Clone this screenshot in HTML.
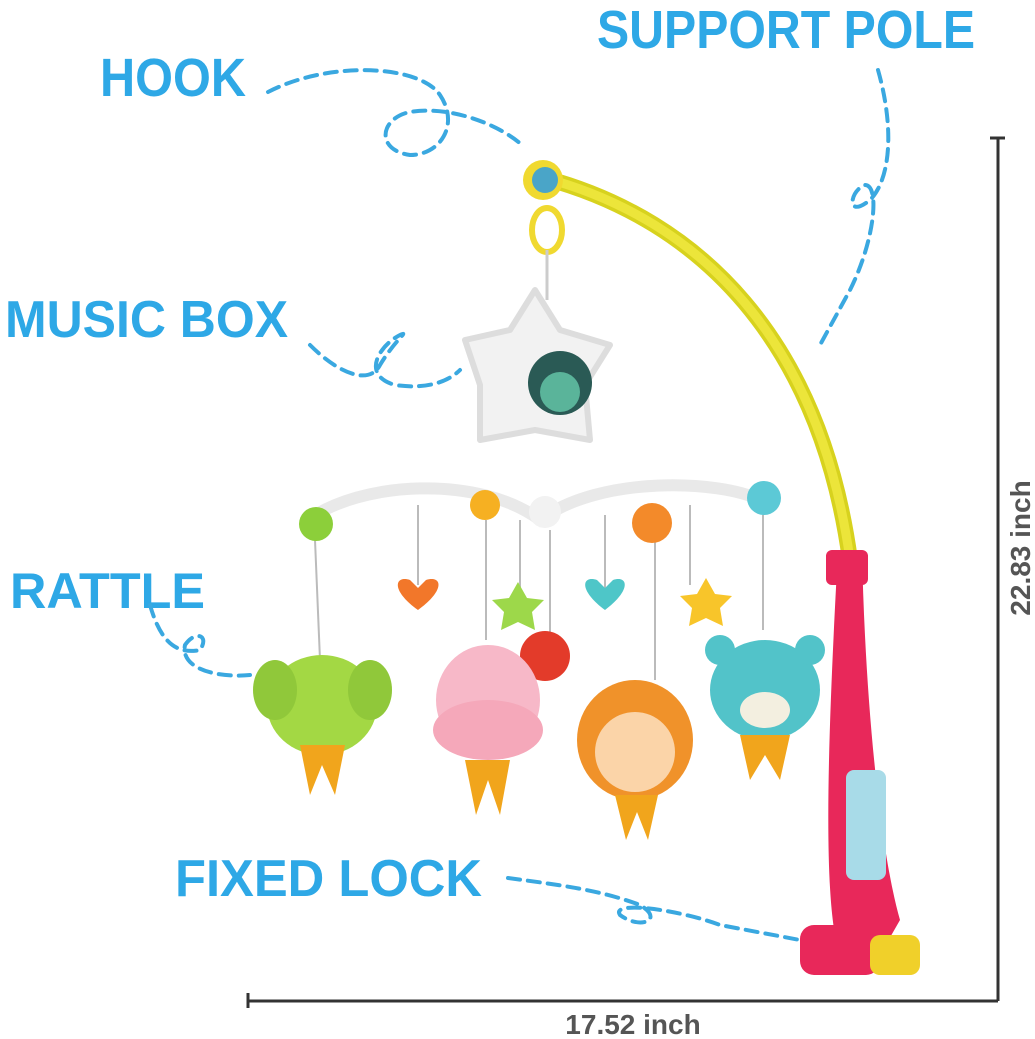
<!DOCTYPE html>
<html><head><meta charset="utf-8"><style>
html,body{margin:0;padding:0;background:#fff;}
svg{display:block}
.lbl{font-family:"Liberation Sans",sans-serif;font-weight:bold;fill:#2ea8e6;}
.d{fill:none;stroke:#3aa8e0;stroke-width:4;stroke-dasharray:12 8;stroke-linecap:round}
</style></head><body>
<svg width="1035" height="1039" viewBox="0 0 1035 1039" xmlns="http://www.w3.org/2000/svg">
<text class="lbl" x="100" y="96" font-size="54" textLength="146" lengthAdjust="spacingAndGlyphs">HOOK</text>
<text class="lbl" x="597" y="48" font-size="54" textLength="378" lengthAdjust="spacingAndGlyphs">SUPPORT POLE</text>
<text class="lbl" x="5" y="337" font-size="52" textLength="283" lengthAdjust="spacingAndGlyphs">MUSIC BOX</text>
<text class="lbl" x="10" y="608" font-size="50" textLength="195" lengthAdjust="spacingAndGlyphs">RATTLE</text>
<text class="lbl" x="175" y="896" font-size="52" textLength="307" lengthAdjust="spacingAndGlyphs">FIXED LOCK</text>
<!-- dashed connectors -->
<path class="d" d="M268,92 C330,60 420,65 440,95 C460,125 440,155 410,155 C375,150 380,118 410,112 C450,105 500,125 522,145"/>
<path class="d" d="M878,70 C895,130 890,180 870,200 C845,220 850,190 865,185 C880,185 875,240 850,290 L820,345"/>
<path class="d" d="M310,345 C340,375 370,385 380,365 C395,340 410,330 400,335 C380,345 360,375 395,385 C430,390 450,380 460,370"/>
<path class="d" d="M150,605 C160,640 175,655 200,650 C210,635 195,630 185,645 C180,670 220,678 250,675"/>
<path class="d" d="M508,878 C560,885 600,890 640,905 C665,920 640,930 620,915 C610,900 680,910 720,925 L800,940"/>
<!-- dimension lines -->
<g stroke="#333" stroke-width="3" fill="none">
<line x1="998" y1="138" x2="998" y2="1001"/>
<line x1="990" y1="138" x2="1005" y2="138"/>
<line x1="248" y1="1001" x2="998" y2="1001"/>
<line x1="248" y1="993" x2="248" y2="1008"/>
</g>
<text x="1030" y="548" transform="rotate(-90 1030 548)" text-anchor="middle" font-family="Liberation Sans,sans-serif" font-weight="bold" font-size="28" fill="#555">22.83 inch</text>
<text x="633" y="1034" text-anchor="middle" font-family="Liberation Sans,sans-serif" font-weight="bold" font-size="28" fill="#555">17.52 inch</text>
<!-- pole -->
<path d="M545,178 C700,220 820,340 850,560" fill="none" stroke="#d7d21e" stroke-width="16"/>
<path d="M545,178 C700,220 820,340 850,560" fill="none" stroke="#ece53a" stroke-width="9"/>
<path d="M838,550 L862,550 C865,700 880,850 900,920 L880,955 L840,955 C820,900 830,700 838,550Z" fill="#e8285a"/>
<rect x="826" y="550" width="42" height="35" rx="6" fill="#e8285a"/>
<rect x="846" y="770" width="40" height="110" rx="8" fill="#a8dbe8"/>
<rect x="800" y="925" width="80" height="50" rx="14" fill="#e8285a"/>
<rect x="870" y="935" width="50" height="40" rx="10" fill="#f0d02a"/>
<circle cx="543" cy="180" r="20" fill="#f0d930"/><circle cx="545" cy="180" r="13" fill="#4aa5c8"/>
<ellipse cx="547" cy="230" rx="15" ry="22" fill="none" stroke="#f0d930" stroke-width="6"/>
<line x1="547" y1="250" x2="547" y2="300" stroke="#ccc" stroke-width="3"/>
<!-- music box star -->
<path d="M535,290 L560,330 L610,345 L585,385 L590,440 L535,430 L480,440 L480,385 L465,340 L510,330Z" fill="#f2f2f2" stroke="#ddd" stroke-width="6" stroke-linejoin="round"/>
<circle cx="560" cy="383" r="32" fill="#2a5a55"/><circle cx="560" cy="392" r="20" fill="#5ab49a"/>
<!-- arms -->
<path d="M305,522 C360,480 480,475 540,520 C600,475 720,480 760,500" fill="none" stroke="#e9e9e9" stroke-width="12"/>
<circle cx="545" cy="512" r="16" fill="#f2f2f2"/>
<g stroke="#bbb" stroke-width="2">
<line x1="315" y1="540" x2="320" y2="660"/><line x1="418" y1="505" x2="418" y2="585"/><line x1="486" y1="520" x2="486" y2="640"/><line x1="520" y1="520" x2="520" y2="590"/><line x1="550" y1="530" x2="550" y2="640"/><line x1="605" y1="515" x2="605" y2="590"/><line x1="655" y1="540" x2="655" y2="680"/><line x1="690" y1="505" x2="690" y2="585"/><line x1="763" y1="515" x2="763" y2="630"/>
</g>
<circle cx="316" cy="524" r="17" fill="#8ccf3a"/><circle cx="485" cy="505" r="15" fill="#f6b022"/><circle cx="652" cy="523" r="20" fill="#f38a2a"/><circle cx="764" cy="498" r="17" fill="#5cc9d6"/>
<path d="M418,610 C390,590 395,575 410,580 L418,588 L426,580 C442,575 446,590 418,610Z" fill="#f2772a"/>
<path d="M605,610 C578,590 582,575 597,580 L605,588 L613,580 C628,575 632,590 605,610Z" fill="#4ec6c8"/>
<polygon points="518,582 527,598 544,600 532,612 535,630 518,622 501,630 504,612 492,600 509,598" fill="#9dd84a"/>
<polygon points="706,578 715,594 732,596 720,608 723,626 706,618 689,626 692,608 680,596 697,594" fill="#f8c52a"/>
<circle cx="545" cy="656" r="25" fill="#e33b2a"/>
<!-- animals -->
<ellipse cx="322" cy="705" rx="55" ry="50" fill="#a3d844"/><ellipse cx="275" cy="690" rx="22" ry="30" fill="#90c83a"/><ellipse cx="370" cy="690" rx="22" ry="30" fill="#90c83a"/>
<polygon points="300,745 345,745 335,795 322,765 310,795" fill="#f1a51c"/>
<ellipse cx="488" cy="700" rx="52" ry="55" fill="#f7b8c8"/><ellipse cx="488" cy="730" rx="55" ry="30" fill="#f5a8ba"/>
<polygon points="465,760 510,760 500,815 488,780 476,815" fill="#f1a51c"/>
<ellipse cx="635" cy="740" rx="58" ry="60" fill="#f0922a"/><ellipse cx="635" cy="752" rx="40" ry="40" fill="#fbd4a8"/>
<polygon points="615,795 658,795 648,840 637,812 626,840" fill="#f1a51c"/>
<ellipse cx="765" cy="690" rx="55" ry="50" fill="#52c3c9"/><circle cx="720" cy="650" r="15" fill="#52c3c9"/><circle cx="810" cy="650" r="15" fill="#52c3c9"/><ellipse cx="765" cy="710" rx="25" ry="18" fill="#f3efe0"/>
<polygon points="740,735 790,735 780,780 765,755 750,780" fill="#f1a51c"/>
</svg>
</body></html>
